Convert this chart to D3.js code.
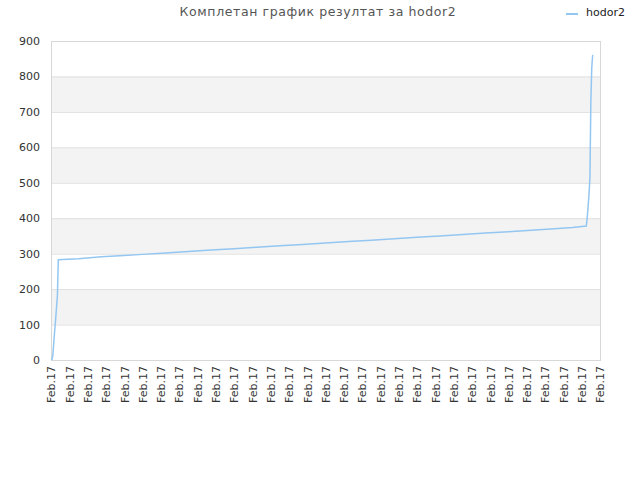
<!DOCTYPE html>
<html>
<head>
<meta charset="utf-8">
<script src="https://cdn.jsdelivr.net/npm/d3@7"></script>
<style>
  body { margin: 0; background: #fff; }
  text { font-family: "DejaVu Sans", sans-serif; }
</style>
</head>
<body>
<div id="chart"></div>
<script>
// games played (x position) and the score after each game
const games = [1, 2, 3, 4, 5, 6, 7, 8,
  30, 55, 80, 100, 125, 150, 175, 200, 225, 250, 275, 300, 325, 350,
  375, 400, 425, 450, 475, 500, 525, 550, 570,
  585, 586, 587, 588, 589, 590, 591, 592];
const scores = [0, 13, 48, 82, 113, 147, 181, 283,
  286, 291, 295, 298, 302, 306, 310, 314, 318, 322, 326, 330, 334, 338,
  342, 346, 350, 354, 358, 362, 366, 370, 374,
  378, 401, 433, 468, 514, 729, 825, 861];
const xTicks = d3.range(0, 601, 20);
const xTickLabel = "Feb.17";
const yTicks = [0, 100, 200, 300, 400, 500, 600, 700, 800, 900];
const seriesName = "hodor2";
const title = "Комплетан график резултат за hodor2";

const W = 640, H = 480;
const plotL = 51, plotR = 600, plotT = 41, plotB = 360;

const svg = d3.select("#chart").append("svg")
  .attr("width", W).attr("height", H);

const x = d3.scaleLinear().domain([0, 600]).range([plotL, plotR]);
const y = d3.scaleLinear().domain([0, 900]).range([plotB, plotT]);

// alternating bands
const bands = [[100, 200], [300, 400], [500, 600], [700, 800]];
svg.selectAll("rect.band")
  .data(bands)
  .join("rect")
  .attr("class", "band")
  .attr("x", plotL)
  .attr("width", plotR - plotL)
  .attr("y", d => y(d[1]))
  .attr("height", d => y(d[0]) - y(d[1]))
  .attr("fill", "#f3f3f3");

// grid lines + y labels
const yAxis = d3.axisLeft(y).tickValues(yTicks).tickSize(-(plotR - plotL)).tickPadding(11);
svg.append("g")
  .attr("transform", `translate(${plotL},0)`)
  .call(yAxis)
  .call(g => g.select(".domain").remove())
  .call(g => g.selectAll("line").attr("stroke", "#e0e0e0"))
  .call(g => g.selectAll("text")
    .attr("fill", "#333")
    .attr("font-size", 11)
    .style("font-family", "DejaVu Sans, sans-serif"));

// frame
svg.append("rect")
  .attr("x", plotL + 0.5).attr("y", plotT + 0.5)
  .attr("width", plotR - plotL).attr("height", plotB - plotT)
  .attr("fill", "none")
  .attr("stroke", "#d8d8d8");

// x labels
const xAxis = d3.axisBottom(x).tickValues(xTicks).tickSize(0).tickFormat(() => xTickLabel);
svg.append("g")
  .attr("transform", `translate(0,${plotB})`)
  .call(xAxis)
  .call(g => g.select(".domain").remove())
  .call(g => g.selectAll("text")
    .attr("transform", "rotate(-90)")
    .attr("text-anchor", "end")
    .attr("x", -6)
    .attr("y", 0)
    .attr("dy", "0.35em")
    .attr("fill", "#333")
    .attr("font-size", 11)
    .style("font-family", "DejaVu Sans, sans-serif"));

// series line
const pts = games.map((g, i) => [g, scores[i]]);
svg.append("path")
  .datum(pts)
  .attr("fill", "none")
  .attr("stroke", "#94c6f2")
  .attr("stroke-width", 1.5)
  .attr("d", d3.line().x(d => x(d[0])).y(d => y(d[1])));

// title
svg.append("text")
  .attr("x", 318).attr("y", 16)
  .attr("text-anchor", "middle")
  .attr("font-size", 12.5)
  .attr("letter-spacing", 0.6)
  .attr("fill", "#555")
  .text(title);

// legend
svg.append("line")
  .attr("x1", 566).attr("x2", 578)
  .attr("y1", 14).attr("y2", 14)
  .attr("stroke", "#94c6f2").attr("stroke-width", 2);
svg.append("text")
  .attr("x", 586).attr("y", 16)
  .attr("font-size", 11)
  .attr("fill", "#222")
  .text(seriesName);
</script>
</body>
</html>
